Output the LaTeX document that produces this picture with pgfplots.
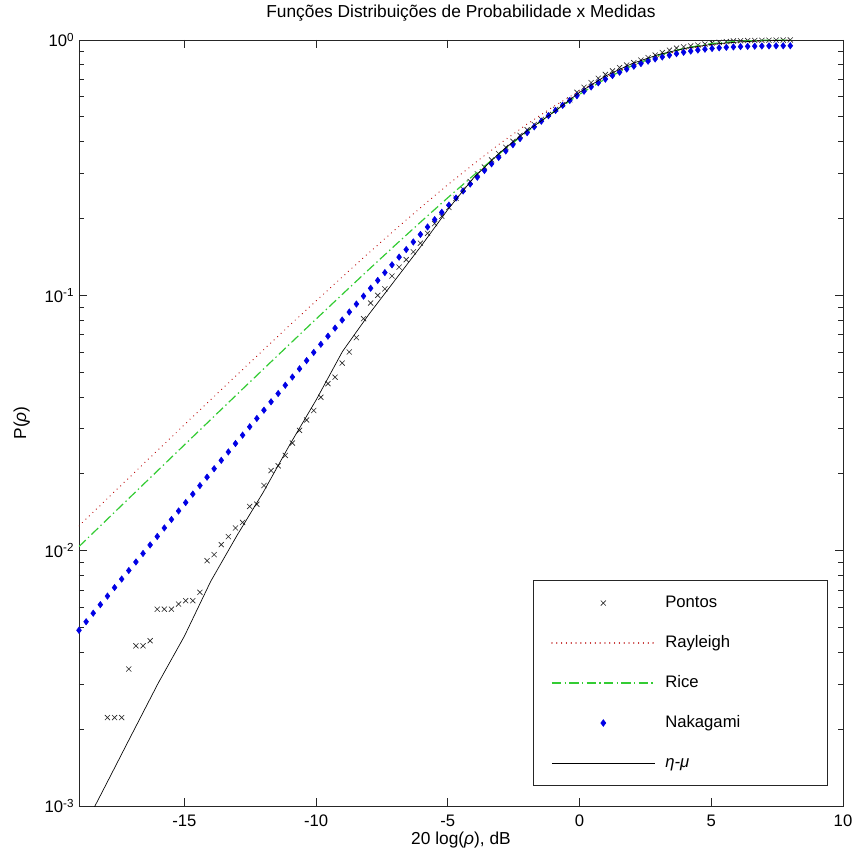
\documentclass[border=0pt]{standalone}
\usepackage{fontspec}
\setmainfont{Liberation Sans}
\usepackage{pgfplots}
\pgfplotsset{compat=1.18}
\definecolor{rayred}{rgb}{0.75,0.08,0.08}
\definecolor{ricegreen}{rgb}{0.2,0.8,0.2}
\definecolor{nakblue}{rgb}{0,0,0.9}
\begin{document}
\begin{tikzpicture}
\fill[white] (-59.25pt,-39.75pt) rectangle (580.5pt,604.5pt);
\useasboundingbox (-59.25pt,-39.75pt) rectangle (580.5pt,604.5pt);
\begin{axis}[
 at={(0pt,0pt)}, anchor=south west,
 scale only axis, width=573pt, height=574.5pt,
 ymode=log, xmin=-19, xmax=10, ymin=1e-3, ymax=1,
 xtick={-15,-10,-5,0,5,10},
 ytick={1e-3,1e-2,1e-1,1},
 yticklabels={10\textsuperscript{-3},10\textsuperscript{-2},10\textsuperscript{-1},10\textsuperscript{0}},
 minor ytick={2e-3,3e-3,4e-3,5e-3,6e-3,7e-3,8e-3,9e-3,2e-2,3e-2,4e-2,5e-2,6e-2,7e-2,8e-2,9e-2,0.2,0.3,0.4,0.5,0.6,0.7,0.8,0.9},
 /pgf/number format/assume math mode=true,
 font=\fontsize{12.5}{15}\selectfont,
 tick label style={font=\fontsize{12.5}{15}\selectfont},
 xticklabel style={yshift=-3pt},
 major tick length=6pt, minor tick length=3.75pt,
 axis line style={line width=0.6pt, black!85},
 every tick/.style={black!85, line width=0.6pt},
 title={Funções Distribuições de Probabilidade x Medidas},
 title style={at={(0.5,1.025)}, anchor=center, font=\fontsize{13}{15}\selectfont},
 xlabel={20 log(\textit{ρ}), dB},
 ylabel={P(\textit{ρ})},
 xlabel style={at={(0.5,-0.0445)}, anchor=center, font=\fontsize{13}{15}\selectfont},
 ylabel style={at={(-0.075,0.5)}, anchor=center, font=\fontsize{13}{15}\selectfont},
 clip mode=individual,
 legend style={at={(0.98,0.026)}, anchor=south east, inner xsep=13.5pt, inner ysep=9pt,
   draw=black!85, line width=0.6pt, row sep=14pt, cells={anchor=west},
   nodes={inner sep=2pt, text height=9.5pt, text depth=2.5pt},
   font=\fontsize{12.5}{15}\selectfont,
   /tikz/every odd column/.append style={column sep=5.5pt}},
]
% Pontos (medidas)
\addplot[only marks, mark=x, mark size=2.7pt, black!85, mark options={line width=0.45pt},
  legend image code/.code={\draw[draw=black!85, line width=0.45pt] plot[only marks, mark=x, mark size=2.7pt] coordinates {(38.5pt,0pt)}; \path (0pt,0pt) (77pt,0pt);}] coordinates {
(-17.92,0.00222)(-17.65,0.00222)(-17.38,0.00222)(-17.11,0.00344)(-16.84,0.00424)(-16.57,0.00424)
(-16.30,0.00444)(-16.03,0.00590)(-15.76,0.00590)(-15.49,0.00590)(-15.22,0.00618)(-14.95,0.00637)
(-14.68,0.00637)(-14.41,0.00687)(-14.14,0.00914)(-13.87,0.00965)(-13.60,0.01056)(-13.33,0.01135)
(-13.06,0.01227)(-12.79,0.0129)(-12.52,0.0149)(-12.25,0.0152)(-11.98,0.0180)(-11.71,0.0206)
(-11.44,0.0215)(-11.17,0.0236)(-10.90,0.0264)(-10.63,0.0296)(-10.36,0.0325)(-10.09,0.0354)
(-9.82,0.0399)(-9.55,0.0451)(-9.28,0.0478)(-9.01,0.0543)(-8.74,0.0600)(-8.47,0.0683)
(-8.20,0.0810)(-7.93,0.0933)(-7.66,0.1000)(-7.39,0.106)(-7.12,0.119)(-6.85,0.129)
(-6.58,0.138)(-6.31,0.148)(-6.04,0.160)(-5.77,0.175)(-5.50,0.191)(-5.23,0.204)
(-4.96,0.221)(-4.69,0.240)(-4.42,0.260)(-4.15,0.279)(-3.88,0.299)(-3.61,0.318)
(-3.34,0.339)(-3.07,0.359)(-2.80,0.380)(-2.53,0.401)(-2.26,0.423)(-1.99,0.445)
(-1.72,0.467)(-1.45,0.489)(-1.18,0.511)(-0.91,0.535)(-0.64,0.558)(-0.37,0.583)
(-0.10,0.624)(0.17,0.653)(0.44,0.681)(0.71,0.708)(0.98,0.733)(1.25,0.757)
(1.52,0.780)(1.79,0.798)(2.06,0.815)(2.33,0.834)(2.60,0.853)(2.87,0.873)
(3.14,0.893)(3.41,0.912)(3.68,0.929)(3.95,0.940)(4.22,0.948)(4.49,0.955)
(4.76,0.964)(5.03,0.973)(5.30,0.979)(5.57,0.986)(5.84,0.991)(6.11,0.993)
(6.38,0.995)(6.65,0.996)(6.92,0.997)(7.19,0.998)(7.46,0.999)(7.73,0.9995)(8.00,1.000)
};
\addlegendentry{\makebox[106pt][l]{Pontos}}
% Rayleigh
\addplot[rayred, line width=1pt, line cap=round, dash pattern=on 0.01pt off 3.6pt,
  legend image code/.code={\draw[draw=rayred, line width=1pt, line cap=round, dash pattern=on 0.01pt off 3.6pt] (0pt,0pt) -- (77pt,0pt);}] coordinates {
(-19,0.012510)(-18,0.015724)(-17,0.019755)(-16,0.024806)(-15,0.031128)(-14,0.039029)
(-13,0.048884)(-12,0.061147)(-11,0.076360)(-10,0.095163)(-9,0.118292)(-8,0.146568)
(-7,0.180879)(-6,0.222127)(-5,0.271104)(-4,0.328402)(-3,0.394176)(-2,0.467903)
(-1,0.548117)(0,0.632121)(1,0.716)(2,0.795)(3,0.864)(4,0.919)(5,0.9577)(6,0.9813)(7,0.9933)(8,0.9982)
};
\addlegendentry{\makebox[106pt][l]{Rayleigh}}
% Rice
\addplot[ricegreen, line width=0.9pt, dash pattern=on 7pt off 2.5pt on 1pt off 2.5pt,
  legend image code/.code={\draw[draw=ricegreen, line width=0.9pt, dash pattern=on 7pt off 2.5pt on 1pt off 2.5pt] (0pt,0pt) -- (77pt,0pt);}] coordinates {
(-19,0.010378)(-18,0.013056)(-17,0.016422)(-16,0.020649)(-15,0.025957)(-14,0.032617)
(-13,0.040965)(-12,0.051412)(-11,0.06448)(-10,0.08077)(-9,0.10103)(-8,0.12616)
(-7,0.15714)(-6,0.19506)(-5,0.24118)(-4,0.29648)(-3,0.36178)(-2,0.43718)
(-1,0.52174)(0,0.61283)(1,0.70588)(2,0.79435)(3,0.87099)(4,0.92972)(5,0.96817)(6,0.98864)(7,0.99702)(8,0.9993)
};
\addlegendentry{\makebox[106pt][l]{Rice}}
% Nakagami
\addplot[only marks, mark=diamond*, mark size=2.4pt, nakblue,
  legend image code/.code={\draw[draw=nakblue, fill=nakblue] plot[only marks, mark=diamond*, mark size=2.4pt] coordinates {(38.5pt,0pt)}; \path (0pt,0pt) (77pt,0pt);}] coordinates {
(-19.00,0.004877)(-18.73,0.005268)(-18.46,0.005690)(-18.19,0.006146)(-17.92,0.006638)(-17.65,0.007169)
(-17.38,0.007743)(-17.11,0.008362)(-16.84,0.009030)(-16.57,0.009750)(-16.30,0.010528)(-16.03,0.011367)
(-15.76,0.012274)(-15.49,0.013252)(-15.22,0.014305)(-14.95,0.015434)(-14.68,0.016655)(-14.41,0.017981)
(-14.14,0.019406)(-13.87,0.020938)(-13.60,0.022583)(-13.33,0.024363)(-13.06,0.026276)(-12.79,0.028345)
(-12.52,0.030558)(-12.25,0.032947)(-11.98,0.035499)(-11.71,0.038284)(-11.44,0.041255)(-11.17,0.044448)
(-10.90,0.047866)(-10.63,0.051554)(-10.36,0.055511)(-10.09,0.059752)(-9.82,0.064307)(-9.55,0.069200)
(-9.28,0.074430)(-9.01,0.080014)(-8.74,0.086014)(-8.47,0.092432)(-8.20,0.099277)(-7.93,0.106599)
(-7.66,0.114414)(-7.39,0.122763)(-7.12,0.131661)(-6.85,0.141119)(-6.58,0.151118)(-6.31,0.161836)
(-6.04,0.173179)(-5.77,0.185228)(-5.50,0.19795)(-5.23,0.21140)(-4.96,0.22554)(-4.69,0.24054)
(-4.42,0.25626)(-4.15,0.27282)(-3.88,0.29025)(-3.61,0.30837)(-3.34,0.32734)(-3.07,0.34694)
(-2.80,0.36770)(-2.53,0.38899)(-2.26,0.41101)(-1.99,0.43369)(-1.72,0.45698)(-1.45,0.48086)
(-1.18,0.50520)(-0.91,0.52982)(-0.64,0.55479)(-0.37,0.57990)(-0.10,0.60507)(0.17,0.63027)
(0.44,0.65518)(0.71,0.67989)(0.98,0.70263)(1.25,0.72575)(1.52,0.74804)(1.79,0.76936)
(2.06,0.78963)(2.33,0.80868)(2.60,0.82648)(2.87,0.84297)(3.14,0.85809)(3.41,0.87180)
(3.68,0.88414)(3.95,0.89514)(4.22,0.90477)(4.49,0.91317)(4.76,0.92039)(5.03,0.92652)
(5.30,0.93165)(5.57,0.93589)(5.84,0.93932)(6.11,0.94207)(6.38,0.94421)(6.65,0.94586)
(6.92,0.94711)(7.19,0.94803)(7.46,0.94869)(7.73,0.94915)(8.00,0.94946)
};
\addlegendentry{\makebox[106pt][l]{Nakagami}}
% eta-mu
\addplot[black, line width=0.5pt,
  legend image code/.code={\draw[draw=black, line width=0.5pt] (0pt,0pt) -- (77pt,0pt);}] coordinates {
(-18.6,0.000910)(-18,0.001199)(-17,0.001905)(-16,0.003020)(-15,0.004624)(-14,0.007586)
(-13,0.011482)(-12,0.016982)(-11,0.026002)(-10,0.038905)(-9,0.060256)(-8,0.084140)
(-7,0.114815)(-6,0.156675)(-5,0.216770)(-4,0.290402)(-3,0.363915)(-2,0.440555)
(-1,0.519996)(0,0.623735)(1,0.724436)(2,0.809096)(3,0.877001)(4,0.926830)
(5,0.961612)(6,0.981748)(7,0.993116)(8,0.997700)
};
\addlegendentry{\makebox[106pt][l]{\textit{η-μ}}}
\end{axis}
\end{tikzpicture}
\end{document}
